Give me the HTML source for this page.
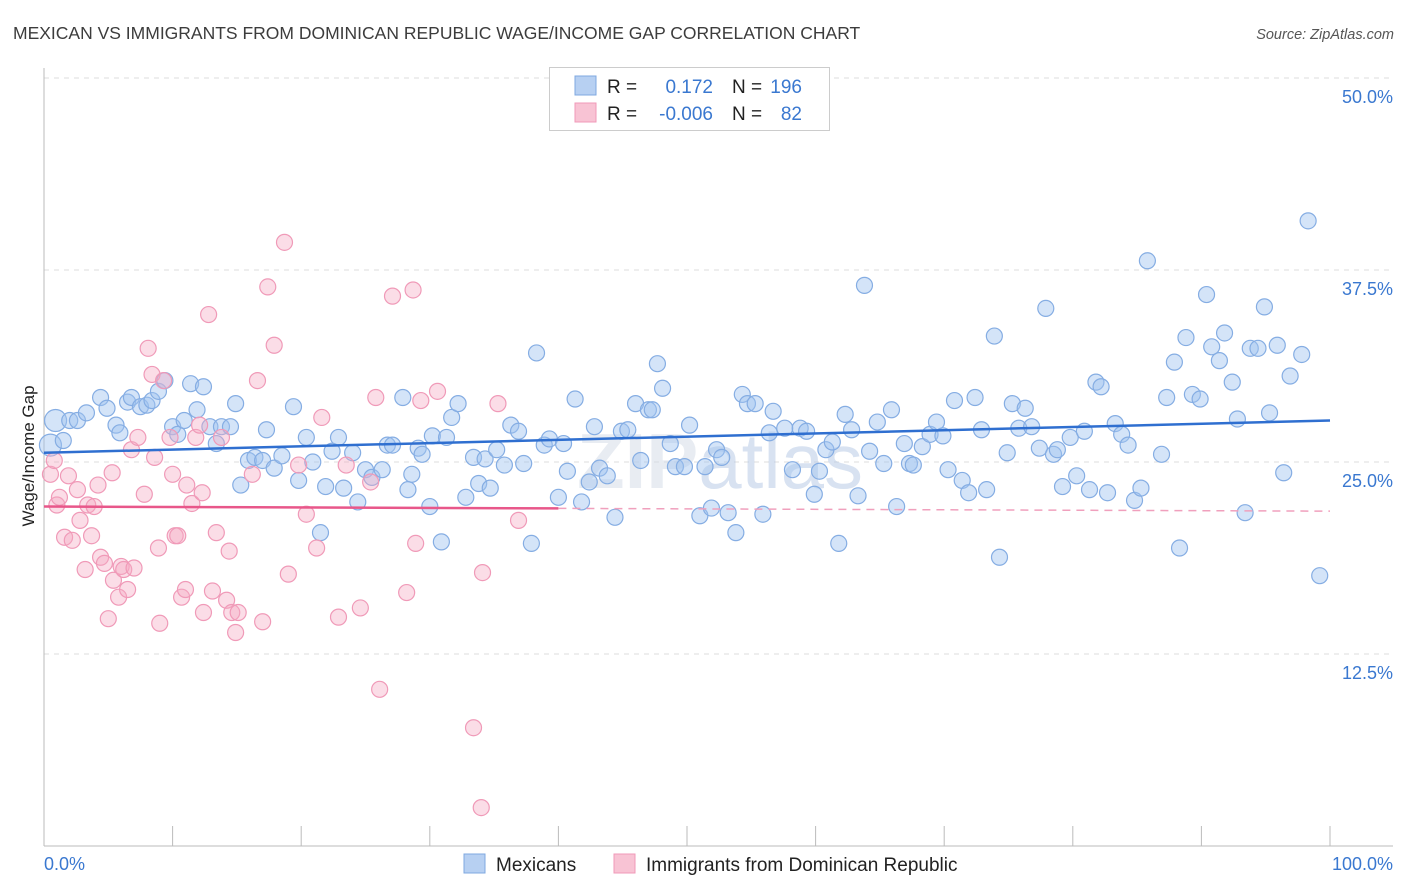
<!DOCTYPE html>
<html><head><meta charset="utf-8"><style>
body{margin:0;background:#fff;font-family:"Liberation Sans",sans-serif;}
svg{display:block}
</style></head><body>
<svg width="1406" height="892">
<text x="13" y="39" font-size="17.5" fill="#3c3c3c">MEXICAN VS IMMIGRANTS FROM DOMINICAN REPUBLIC WAGE/INCOME GAP CORRELATION CHART</text>
<text x="1394" y="39" font-size="14.5" fill="#555" text-anchor="end" font-style="italic">Source: ZipAtlas.com</text>
<g id="grid"></g>
<text x="720" y="488" font-size="78" font-weight="bold" fill="#d6dde8" opacity="0.55" text-anchor="middle">ZIP<tspan font-weight="normal" fill="#b9cbe6">atlas</tspan></text>
<g id="axes"></g>
<g id="pts"></g>
<g id="trends"></g>
<text transform="translate(34,456) rotate(-90)" font-size="17" fill="#222" text-anchor="middle">Wage/Income Gap</text>
<g>
<rect x="549.5" y="67.5" width="280" height="63" fill="#fff" stroke="#ccc"/>
<rect x="575" y="76" width="21" height="19" fill="#b7d0f2" stroke="#7fa8e0"/>
<rect x="575" y="103" width="21" height="19" fill="#f8c3d4" stroke="#f09ab8"/>
<text x="607" y="93" font-size="19" fill="#222">R = </text><text x="713" y="93" font-size="19" fill="#3a78d0" text-anchor="end">0.172</text>
<text x="732" y="93" font-size="19" fill="#222">N = </text><text x="802" y="93" font-size="19" fill="#3a78d0" text-anchor="end">196</text>
<text x="607" y="120" font-size="19" fill="#222">R = </text><text x="713" y="120" font-size="19" fill="#3a78d0" text-anchor="end">-0.006</text>
<text x="732" y="120" font-size="19" fill="#222">N = </text><text x="802" y="120" font-size="19" fill="#3a78d0" text-anchor="end">82</text>
</g>
<g>
<rect x="464" y="854" width="21" height="19" fill="#b7d0f2" stroke="#7fa8e0"/>
<text x="496" y="871" font-size="19" fill="#222">Mexicans</text>
<rect x="614" y="854" width="21" height="19" fill="#f8c3d4" stroke="#f09ab8"/>
<text x="646" y="871" font-size="19" fill="#222">Immigrants from Dominican Republic</text>
</g>
</svg>
<script>
const yTicks=[12.5,25.0,37.5,50.0];
const yTickLabels=["12.5%","25.0%","37.5%","50.0%"];
const xTickLabels=["0.0%","100.0%"];
const blueX=[0.5,0.9,1.5,2.0,2.6,3.3,4.4,4.9,5.6,5.9,6.5,6.8,7.5,8.0,8.4,8.9,9.4,10.0,10.4,10.9,11.4,11.9,12.4,12.9,13.4,13.8,14.5,14.9,15.3,15.9,16.4,17.0,17.3,17.9,18.5,19.4,19.8,20.4,20.9,21.5,21.9,22.4,22.9,23.3,24.0,24.4,25.0,25.5,26.3,26.7,27.1,27.9,28.3,28.6,29.1,29.4,30.0,30.2,30.9,31.3,31.7,32.2,32.8,33.4,33.8,34.3,34.7,35.2,35.8,36.3,36.9,37.3,37.9,38.3,38.9,39.3,40.0,40.4,40.7,41.3,41.8,42.4,42.8,43.2,43.8,44.4,44.9,45.4,46.0,46.4,47.0,47.3,47.7,48.1,48.7,49.1,49.8,50.2,51.0,51.4,51.9,52.3,52.7,53.2,53.8,54.3,54.7,55.3,55.9,56.4,56.7,57.6,58.2,58.8,59.3,59.9,60.3,60.8,61.3,61.8,62.3,62.8,63.3,63.8,64.2,64.8,65.3,65.9,66.3,66.9,67.3,67.6,68.3,68.9,69.4,69.9,70.3,70.8,71.4,71.9,72.4,72.9,73.3,73.9,74.3,74.9,75.3,75.8,76.3,76.8,77.4,77.9,78.5,78.8,79.2,79.8,80.3,80.9,81.3,81.8,82.2,82.7,83.3,83.8,84.3,84.8,85.3,85.8,86.9,87.3,87.9,88.3,88.8,89.3,89.9,90.4,90.8,91.4,91.8,92.4,92.8,93.4,93.8,94.4,94.9,95.3,95.9,96.4,96.9,97.8,98.3,99.2];
const blueY=[26.1,27.7,26.4,27.7,27.7,28.2,29.2,28.5,27.4,26.9,28.9,29.2,28.6,28.7,29.0,29.6,30.3,27.3,26.8,27.7,30.1,28.4,29.9,27.3,26.2,27.3,27.3,28.8,23.5,25.1,25.3,25.1,27.1,24.6,25.4,28.6,23.8,26.6,25.0,20.4,23.4,25.7,26.6,23.3,25.6,22.4,24.5,24.0,24.5,26.1,26.1,29.2,23.2,24.2,25.9,25.5,22.1,26.7,19.8,26.6,27.9,28.8,22.7,25.3,23.6,25.2,23.3,25.8,24.8,27.4,27.0,24.9,19.7,32.1,26.1,26.5,22.7,26.2,24.4,29.1,22.4,23.7,27.3,24.6,24.1,21.4,27.0,27.1,28.8,25.1,28.4,28.4,31.4,29.8,26.2,24.7,24.7,27.4,21.5,24.7,22.0,25.8,25.3,21.7,20.4,29.4,28.8,28.8,21.6,26.9,28.3,27.2,24.5,27.2,27.0,22.9,24.4,25.8,26.3,19.7,28.1,27.1,22.8,36.5,25.7,27.6,24.9,28.4,22.1,26.2,24.9,24.8,26.0,26.8,27.6,26.7,24.5,29.0,23.8,23.0,29.2,27.1,23.2,33.2,18.8,25.6,28.8,27.2,28.5,27.3,25.9,35.0,25.5,25.8,23.4,26.6,24.1,27.0,23.2,30.2,29.9,23.0,27.5,26.8,26.1,22.5,23.3,38.1,25.5,29.2,31.5,19.4,33.1,29.4,29.1,35.9,32.5,31.6,33.4,30.2,27.8,21.7,32.4,32.4,35.1,28.2,32.6,24.3,30.6,32.0,40.7,17.6];
const pinkX=[0.5,0.8,1.0,1.2,1.6,1.9,2.2,2.6,2.8,3.2,3.4,3.7,3.9,4.2,4.4,4.7,5.0,5.3,5.4,5.8,6.0,6.2,6.5,6.8,7.0,7.3,7.8,8.1,8.4,8.6,8.9,9.0,9.3,9.8,10.0,10.2,10.4,10.7,11.0,11.1,11.5,11.8,12.1,12.3,12.4,12.8,13.1,13.4,13.8,14.2,14.4,14.6,14.9,15.1,16.2,16.6,17.0,17.4,17.9,18.7,19.0,19.8,20.4,21.2,21.6,22.9,23.5,24.6,25.4,25.8,26.1,27.1,28.2,28.7,28.9,29.3,30.6,33.4,34.0,34.1,35.3,36.9];
const pinkY=[24.2,25.1,22.2,22.7,20.1,24.1,19.9,23.2,21.2,18.0,22.2,20.2,22.1,23.5,18.8,18.4,14.8,24.3,17.3,16.2,18.2,18.0,16.7,25.8,18.1,26.6,22.9,32.4,30.7,25.3,19.4,14.5,30.3,26.6,24.2,20.2,20.2,16.2,16.7,23.5,22.3,26.6,27.4,23.0,15.2,34.6,16.6,20.4,26.6,16.0,19.2,15.2,13.9,15.2,24.2,30.3,14.6,36.4,32.6,39.3,17.7,24.8,21.6,19.4,27.9,14.9,24.8,15.5,23.7,29.2,10.2,35.8,16.5,36.2,19.7,29.0,29.6,7.7,2.5,17.8,28.8,21.2];
const blueTrend=[25.6,27.7];
const pinkTrend=[22.1,21.8];
const NS="http://www.w3.org/2000/svg";
const X0=44,X1=1330,Y0=846,PY=192/12.5;
function sx(v){return X0+(X1-X0)*v/100;}
function sy(v){return Y0-v*PY;}
function mk(tag,attrs,parent){const e=document.createElementNS(NS,tag);for(const k in attrs)e.setAttribute(k,attrs[k]);parent.appendChild(e);return e;}
const grid=document.getElementById('grid'),axes=document.getElementById('axes'),pts=document.getElementById('pts'),tr=document.getElementById('trends');
yTicks.forEach((t,i)=>{
 const l=mk('line',{x1:X0,x2:1393,y1:sy(t),y2:sy(t),stroke:'#ddd','stroke-dasharray':'5,5'},grid);
 
 
 const tx=mk('text',{x:1393,y:sy(t)+25,'font-size':18,fill:'#3a78d0','text-anchor':'end'},axes);
 tx.textContent=yTickLabels[i];
 
 
});
mk('line',{x1:X0,x2:X0,y1:68,y2:Y0,stroke:'#bbb'},axes);
mk('line',{x1:X0,x2:1393,y1:Y0,y2:Y0,stroke:'#bbb'},axes);
for(let i=0;i<=10;i++){mk('line',{x1:sx(i*10),x2:sx(i*10),y1:826,y2:Y0,stroke:'#bbb'},axes);}
[[0,'start',X0],[1,'end',1393]].forEach(([i,a,x])=>{
 const t=mk('text',{x:x,y:870,'font-size':18,fill:'#3a78d0','text-anchor':a},axes);
 t.textContent=xTickLabels[i];
 
 
});
blueX.forEach((x,i)=>{
 const c=mk('circle',{cx:sx(x),cy:sy(blueY[i]),r:i<2?11:8,fill:'rgba(160,196,240,0.45)',stroke:'#85ade3','stroke-width':1.2},pts);
 
 
});
pinkX.forEach((x,i)=>{
 const c=mk('circle',{cx:sx(x),cy:sy(pinkY[i]),r:8,fill:'rgba(245,170,195,0.4)',stroke:'#f09ab8','stroke-width':1.2},pts);
 
 
});
const bl=mk('line',{x1:sx(0),y1:sy(blueTrend[0]),x2:sx(100),y2:sy(blueTrend[1]),stroke:'#2f6fd0','stroke-width':2.5},tr);


const pm=pinkTrend[0]+(pinkTrend[1]-pinkTrend[0])*0.4;
const pl=mk('line',{x1:sx(0),y1:sy(pinkTrend[0]),x2:sx(40),y2:sy(pm),stroke:'#e8578a','stroke-width':2.5},tr);


const pd=mk('line',{x1:sx(40),y1:sy(pm),x2:sx(100),y2:sy(pinkTrend[1]),stroke:'#f0a0bd','stroke-width':1.5,'stroke-dasharray':'8,6'},tr);


</script>
</body></html>
